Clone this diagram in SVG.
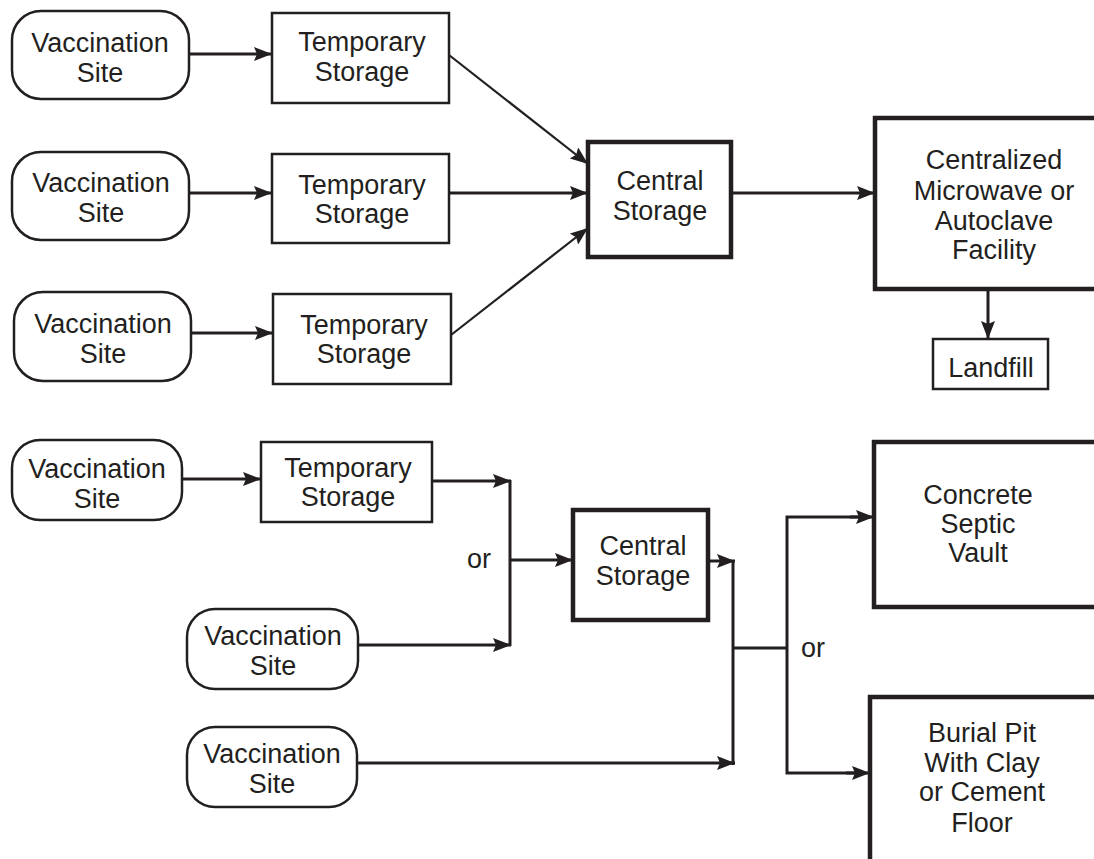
<svg xmlns="http://www.w3.org/2000/svg" width="1094" height="859" viewBox="0 0 1094 859">
<defs>
<style>
.site{fill:#fff;stroke:#231f20;stroke-width:2.5}
.box{fill:#fff;stroke:#231f20;stroke-width:2.5}
.bold{fill:#fff;stroke:#231f20;stroke-width:4.5}
text{font-family:"Liberation Sans",Arial,sans-serif;font-size:27px;fill:#231f20;text-anchor:middle}
.c{fill:none;stroke:#231f20;stroke-width:3}
.d{fill:none;stroke:#231f20;stroke-width:2.2}
</style>
<marker id="ah" viewBox="0 0 18 14" refX="18" refY="7" markerWidth="18" markerHeight="14" markerUnits="userSpaceOnUse" orient="auto">
<path d="M0,0 L18,7 L0,14 L3,7 Z" fill="#231f20"/>
</marker>
</defs>
<rect width="1094" height="859" fill="#fff"/>

<g id="connectors">
<line class="c" x1="189" y1="54" x2="272" y2="54" marker-end="url(#ah)"/>
<line class="c" x1="189" y1="193" x2="272" y2="193" marker-end="url(#ah)"/>
<line class="c" x1="191" y1="333" x2="273" y2="333" marker-end="url(#ah)"/>
<line class="d" x1="449" y1="55" x2="588" y2="164" marker-end="url(#ah)"/>
<line class="c" x1="449" y1="193" x2="588" y2="193" marker-end="url(#ah)"/>
<line class="d" x1="451" y1="335" x2="588" y2="228" marker-end="url(#ah)"/>
<line class="c" x1="731" y1="193" x2="875" y2="193" marker-end="url(#ah)"/>
<line class="c" x1="988" y1="289" x2="988" y2="339" marker-end="url(#ah)"/>

<line class="c" x1="182" y1="479" x2="261" y2="479" marker-end="url(#ah)"/>
<line class="c" x1="432" y1="481" x2="511" y2="481" marker-end="url(#ah)"/>
<line class="c" x1="358" y1="645" x2="511" y2="645" marker-end="url(#ah)"/>
<line class="c" x1="510" y1="480" x2="510" y2="646" stroke-width="3.5"/>
<line class="c" x1="510" y1="560" x2="573" y2="560" marker-end="url(#ah)"/>
<line class="c" x1="708" y1="561" x2="735" y2="561" marker-end="url(#ah)"/>
<line class="c" x1="357" y1="763" x2="735" y2="763" marker-end="url(#ah)"/>
<line class="c" x1="733" y1="560" x2="733" y2="765" stroke-width="3.5"/>
<line class="c" x1="733" y1="648" x2="786" y2="648"/>
<polyline class="c" points="860,517 787,517 787,773 856,773"/>
<line class="c" x1="850" y1="517" x2="874" y2="517" marker-end="url(#ah)"/>
<line class="c" x1="846" y1="773" x2="870" y2="773" marker-end="url(#ah)"/>
</g>

<g id="vs1"><rect class="site" x="12" y="11" width="177" height="88" rx="29"/><text x="100" y="52">Vaccination</text><text x="100" y="82">Site</text></g>
<g id="ts1"><rect class="box" x="272" y="13" width="177" height="90"/><text x="362" y="51">Temporary</text><text x="362" y="81">Storage</text></g>
<g id="vs2"><rect class="site" x="12" y="152" width="177" height="88" rx="29"/><text x="101" y="192">Vaccination</text><text x="101" y="222">Site</text></g>
<g id="ts2"><rect class="box" x="272" y="154" width="177" height="89"/><text x="362" y="194">Temporary</text><text x="362" y="223">Storage</text></g>
<g id="vs3"><rect class="site" x="14" y="292" width="177" height="89" rx="29"/><text x="103" y="333">Vaccination</text><text x="103" y="363">Site</text></g>
<g id="ts3"><rect class="box" x="273" y="294" width="178" height="90"/><text x="364" y="334">Temporary</text><text x="364" y="363">Storage</text></g>
<g id="cs1"><rect class="bold" x="588" y="142" width="143" height="115"/><text x="660" y="190">Central</text><text x="660" y="220">Storage</text></g>
<g id="cmaf"><rect class="bold" x="875" y="118" width="230" height="171"/><text x="994" y="169">Centralized</text><text x="994" y="200">Microwave or</text><text x="994" y="230">Autoclave</text><text x="994" y="259">Facility</text></g>
<g id="landfill"><rect class="box" x="933" y="339" width="115" height="50"/><text x="991" y="377">Landfill</text></g>

<g id="vs4"><rect class="site" x="12" y="440" width="170" height="80" rx="28"/><text x="97" y="478">Vaccination</text><text x="97" y="508">Site</text></g>
<g id="ts4"><rect class="box" x="261" y="442" width="171" height="80"/><text x="348" y="477">Temporary</text><text x="348" y="506">Storage</text></g>
<g id="or1"><text x="479" y="568">or</text></g>
<g id="vs5"><rect class="site" x="187" y="609" width="171" height="80" rx="28"/><text x="273" y="645">Vaccination</text><text x="273" y="675">Site</text></g>
<g id="vs6"><rect class="site" x="187" y="727" width="170" height="80" rx="28"/><text x="272" y="763">Vaccination</text><text x="272" y="793">Site</text></g>
<g id="cs2"><rect class="bold" x="573" y="510" width="135" height="110"/><text x="643" y="555">Central</text><text x="643" y="585">Storage</text></g>
<g id="or2"><text x="813" y="657">or</text></g>
<g id="vault"><rect class="bold" x="874" y="442" width="230" height="165"/><text x="978" y="504">Concrete</text><text x="978" y="533">Septic</text><text x="978" y="562">Vault</text></g>
<g id="pit"><rect class="bold" x="870" y="697" width="235" height="180"/><text x="982" y="742">Burial Pit</text><text x="982" y="772">With Clay</text><text x="982" y="801">or Cement</text><text x="982" y="832">Floor</text></g>
</svg>
